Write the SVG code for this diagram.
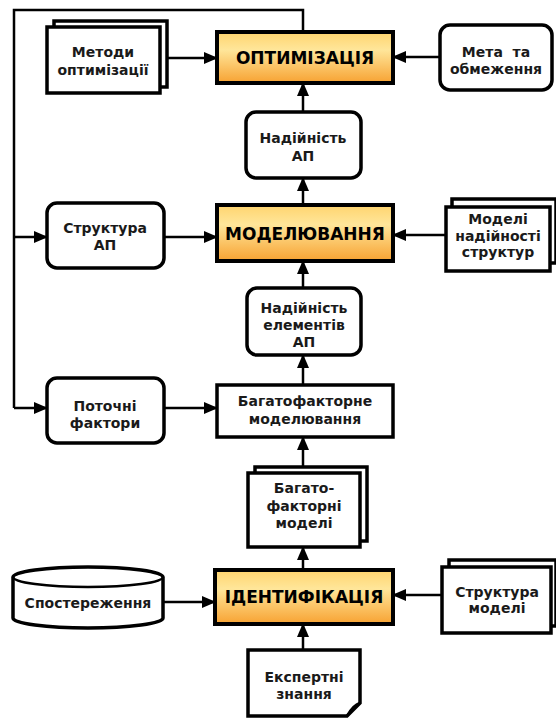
<svg xmlns="http://www.w3.org/2000/svg" width="556" height="719" viewBox="0 0 556 719">
<defs>
<linearGradient id="og" x1="0" y1="0" x2="0" y2="1">
<stop offset="0" stop-color="#FFD46E"/>
<stop offset="0.35" stop-color="#FFE69A"/>
<stop offset="1" stop-color="#F7A232"/>
</linearGradient>
<marker id="ah" markerUnits="userSpaceOnUse" markerWidth="14" markerHeight="12" refX="13" refY="6" orient="auto">
<path d="M0,0 L14,6 L0,12 Z" fill="#000"/>
</marker>
</defs>
<style>
.b{fill:#fff;stroke:#000;stroke-width:3.5}
.h{fill:url(#og);stroke:#000;stroke-width:4}
.c{fill:none;stroke:#000;stroke-width:2.5;marker-end:url(#ah)}
.l{fill:none;stroke:#000;stroke-width:2.5}
text{font-family:"DejaVu Sans","Noto Sans",sans-serif;font-weight:bold;font-size:14px;fill:#1a1a1a;text-anchor:middle}
.ht{font-size:17px;fill:#000}
</style>
<rect width="556" height="719" fill="#fff"/>
<g id="connectors">
<path class="l" d="M303,32 V10 H14 V408"/>
<path class="c" d="M14,237 H47"/>
<path class="c" d="M14,408 H47"/>
<path class="c" d="M167,58 H217"/>
<path class="c" d="M440,57 H393"/>
<path class="c" d="M303,112 V83"/>
<path class="c" d="M164,237 H217"/>
<path class="c" d="M303,205 V178"/>
<path class="c" d="M446,235 H393"/>
<path class="c" d="M303,288 V261"/>
<path class="c" d="M303,385 V355"/>
<path class="c" d="M164,408 H217"/>
<path class="c" d="M303,467 V437"/>
<path class="c" d="M303,570 V547"/>
<path class="c" d="M163,602 H215"/>
<path class="c" d="M442,595 H393"/>
<path class="c" d="M303,650 V624"/>
</g>
<g id="n-metody">
<rect class="b" x="54" y="21" width="113" height="66"/>
<rect class="b" x="47" y="27" width="113" height="66"/>
<text x="103" y="57">Методи</text>
<text x="103" y="75">оптимізації</text>
</g>
<g id="n-optym">
<rect class="h" x="217" y="32" width="176" height="51"/>
<text class="ht" x="305" y="64">ОПТИМІЗАЦІЯ</text>
</g>
<g id="n-meta">
<rect class="b" x="440" y="25" width="112" height="65" rx="10"/>
<text x="496" y="57" xml:space="preserve">Мета  та</text>
<text x="496" y="74">обмеження</text>
</g>
<g id="n-nadap">
<rect class="b" x="246" y="112" width="115" height="66" rx="10"/>
<text x="303" y="143">Надійність</text>
<text x="303" y="161">АП</text>
</g>
<g id="n-struktap">
<rect class="b" x="47" y="203" width="117" height="65" rx="10"/>
<text x="105" y="233">Структура</text>
<text x="105" y="250">АП</text>
</g>
<g id="n-model">
<rect class="h" x="217" y="205" width="176" height="56"/>
<text class="ht" x="305" y="240">МОДЕЛЮВАННЯ</text>
</g>
<g id="n-modeli-nad">
<rect class="b" x="452" y="199" width="104" height="64"/>
<rect class="b" x="446" y="207" width="104" height="64"/>
<text x="498" y="224">Моделі</text>
<text x="498" y="241">надійності</text>
<text x="498" y="257">структур</text>
</g>
<g id="n-nadel">
<rect class="b" x="247" y="288" width="114" height="67" rx="10"/>
<text x="304" y="313">Надійність</text>
<text x="304" y="330">елементів</text>
<text x="304" y="347">АП</text>
</g>
<g id="n-potochni">
<rect class="b" x="47" y="378" width="117" height="65" rx="10"/>
<text x="105" y="411">Поточні</text>
<text x="105" y="428">фактори</text>
</g>
<g id="n-bagmod">
<rect class="b" x="217" y="385" width="176" height="52"/>
<text x="305" y="406">Багатофакторне</text>
<text x="305" y="424">моделювання</text>
</g>
<g id="n-bagmodeli">
<rect class="b" x="255" y="467" width="112" height="74"/>
<rect class="b" x="248" y="473" width="112" height="74"/>
<text x="304" y="493">Багато-</text>
<text x="304" y="511">факторні</text>
<text x="304" y="528">моделі</text>
</g>
<g id="n-sposter">
<path class="b" d="M13,577 A75,10 0 0 1 163,577 V618 A75,10 0 0 1 13,618 Z"/>
<path class="l" d="M13,577 A75,10 0 0 0 163,577"/>
<text x="88" y="608">Спостереження</text>
</g>
<g id="n-ident">
<rect class="h" x="215" y="570" width="178" height="54"/>
<text class="ht" x="304" y="603">ІДЕНТИФІКАЦІЯ</text>
</g>
<g id="n-struktmod">
<rect class="b" x="449" y="560" width="107" height="66"/>
<rect class="b" x="442" y="567" width="109" height="66"/>
<text x="497" y="597">Структура</text>
<text x="497" y="613">моделі</text>
</g>
<g id="n-ekspert">
<path class="b" d="M248,650 H360 V703 L347,716 H248 Z"/>
<path class="l" d="M360,703 Q353,705 347,716"/>
<text x="304" y="682">Експертні</text>
<text x="304" y="699">знання</text>
</g>
</svg>
